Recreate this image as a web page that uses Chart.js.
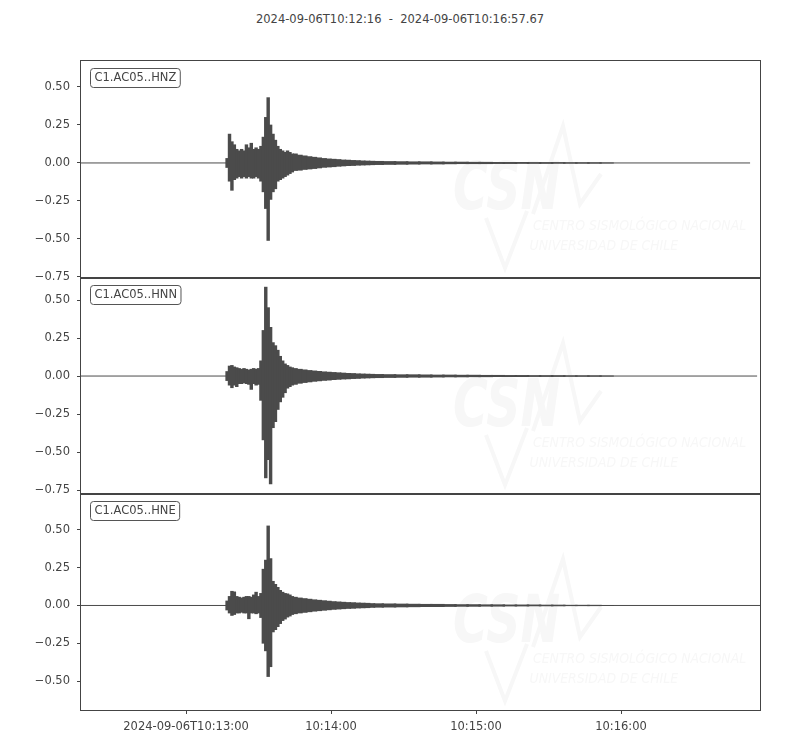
<!DOCTYPE html>
<html>
<head>
<meta charset="utf-8">
<script src="https://cdn.jsdelivr.net/npm/chart.js@4.4.1/dist/chart.umd.min.js"></script>
<style>
  body { margin: 0; background: #fff; }
  #wrap { position: relative; width: 800px; height: 750px; }
  #wrap canvas { position: absolute; left: 0; }
  #title {
    position: absolute; top: 12px; left: 0; width: 800px; text-align: center;
    font: 11.5px "DejaVu Sans", sans-serif; color: #444; white-space: pre;
  }
</style>
</head>
<body>
<div id="wrap">
  <div id="title">2024-09-06T10:12:16  -  2024-09-06T10:16:57.67</div>
  <canvas id="p0" width="800" height="237" style="top:51px"></canvas>
  <canvas id="p1" width="800" height="236" style="top:268px"></canvas>
  <canvas id="p2" width="800" height="266" style="top:484px"></canvas>
</div>
<script>
// seconds relative to 10:13:00
const xMin = -43.45;
const xMax = 237.5;
const tickTimes = [0, 60, 120, 180];
const tickLabels = ['2024-09-06T10:13:00', '10:14:00', '10:15:00', '10:16:00'];

const channels = ['C1.AC05..HNZ', 'C1.AC05..HNN', 'C1.AC05..HNE'];
const yMin = [-0.757, -0.776, -0.691];
const yMax = [0.671, 0.645, 0.737];
const yTicksA = [-0.75, -0.5, -0.25, 0, 0.25, 0.5];
const yTicksB = [-0.5, -0.25, 0, 0.25, 0.5];
const traceStart = [-43.45, -43.45, -43.45];
const traceEnd = [233.4, 236.3, 237.5];

// envelope bins (max / min amplitude per time bin)
const binTimes = [
  17, 18, 19, 20, 21, 22, 23, 24, 25, 26, 27, 28, 29, 30, 31, 32, 33, 34, 35, 36, 37, 38, 39, 40, 41, 42, 43, 44, 45,
  47, 49, 51, 53, 55, 57, 59, 61, 63, 65, 67, 69, 71, 73, 75, 77, 79,
  84, 89, 94, 99, 104, 109, 114, 119, 124, 129, 134, 139, 144, 149, 154, 159, 164, 169, 174
];

const hnzHigh = [
  0.03, 0.19, 0.14, 0.12, 0.09, 0.08, 0.09, 0.08, 0.12, 0.10, 0.13, 0.09, 0.10, 0.09, 0.11, 0.17, 0.30, 0.43, 0.25, 0.19, 0.15, 0.11, 0.09, 0.08, 0.07, 0.08, 0.07, 0.06, 0.06,
  0.052, 0.047, 0.042, 0.038, 0.034, 0.03, 0.027, 0.025, 0.023, 0.02, 0.019, 0.017, 0.016, 0.014, 0.013, 0.012, 0.011,
  0.01, 0.009, 0.008, 0.008, 0.007, 0.006, 0.006, 0.005, 0.005, 0.004, 0.004, 0.004, 0.003, 0.003, 0.003, 0.002, 0.002, 0.002, 0.001
];
const hnzLow = [
  -0.03, -0.12, -0.18, -0.11, -0.10, -0.09, -0.10, -0.09, -0.10, -0.09, -0.10, -0.10, -0.09, -0.10, -0.12, -0.19, -0.30, -0.51, -0.24, -0.19, -0.17, -0.12, -0.11, -0.10, -0.09, -0.08, -0.07, -0.06, -0.05,
  -0.048, -0.043, -0.04, -0.037, -0.033, -0.029, -0.027, -0.025, -0.022, -0.02, -0.018, -0.017, -0.015, -0.014, -0.013, -0.012, -0.011,
  -0.01, -0.009, -0.008, -0.007, -0.007, -0.006, -0.005, -0.005, -0.005, -0.004, -0.004, -0.003, -0.003, -0.003, -0.002, -0.002, -0.002, -0.002, -0.001
];

const hnnHigh = [
  0.03, 0.066, 0.07, 0.06, 0.055, 0.05, 0.045, 0.05, 0.045, 0.04, 0.045, 0.05, 0.045, 0.05, 0.10, 0.30, 0.585, 0.45, 0.32, 0.22, 0.20, 0.17, 0.13, 0.10, 0.08, 0.07, 0.06, 0.055, 0.05,
  0.045, 0.041, 0.037, 0.034, 0.031, 0.028, 0.026, 0.024, 0.022, 0.02, 0.018, 0.017, 0.015, 0.014, 0.013, 0.012, 0.011,
  0.01, 0.009, 0.009, 0.008, 0.007, 0.007, 0.006, 0.006, 0.005, 0.005, 0.004, 0.004, 0.003, 0.003, 0.003, 0.002, 0.002, 0.002, 0.001
];
const hnnLow = [
  -0.03, -0.06, -0.077, -0.06, -0.07, -0.05, -0.05, -0.045, -0.05, -0.055, -0.088, -0.05, -0.06, -0.055, -0.16, -0.42, -0.67, -0.55, -0.71, -0.34, -0.30, -0.22, -0.17, -0.14, -0.11, -0.08, -0.07, -0.06, -0.055,
  -0.048, -0.043, -0.039, -0.035, -0.032, -0.029, -0.027, -0.024, -0.022, -0.02, -0.019, -0.017, -0.016, -0.014, -0.013, -0.012, -0.011,
  -0.01, -0.009, -0.008, -0.008, -0.007, -0.006, -0.006, -0.005, -0.005, -0.004, -0.004, -0.004, -0.003, -0.003, -0.003, -0.002, -0.002, -0.002, -0.001
];

const hneHigh = [
  0.03, 0.06, 0.094, 0.09, 0.06, 0.055, 0.05, 0.055, 0.06, 0.06, 0.055, 0.07, 0.088, 0.06, 0.08, 0.24, 0.30, 0.526, 0.31, 0.16, 0.14, 0.12, 0.10, 0.088, 0.08, 0.077, 0.07, 0.06, 0.055,
  0.05, 0.046, 0.042, 0.038, 0.035, 0.032, 0.029, 0.026, 0.024, 0.022, 0.02, 0.019, 0.017, 0.016, 0.015, 0.013, 0.012,
  0.011, 0.01, 0.009, 0.008, 0.008, 0.007, 0.006, 0.006, 0.005, 0.005, 0.004, 0.004, 0.004, 0.003, 0.003, 0.002, 0.002, 0.002, 0.001
];
const hneLow = [
  -0.03, -0.05, -0.066, -0.06, -0.05, -0.05, -0.045, -0.05, -0.05, -0.088, -0.05, -0.05, -0.055, -0.05, -0.08, -0.25, -0.30, -0.47, -0.405, -0.175, -0.16, -0.14, -0.12, -0.10, -0.09, -0.077, -0.07, -0.06, -0.055,
  -0.05, -0.046, -0.042, -0.038, -0.035, -0.032, -0.029, -0.026, -0.024, -0.022, -0.02, -0.019, -0.017, -0.016, -0.015, -0.013, -0.012,
  -0.011, -0.01, -0.009, -0.008, -0.008, -0.007, -0.006, -0.006, -0.005, -0.005, -0.004, -0.004, -0.003, -0.003, -0.003, -0.002, -0.002, -0.002, -0.001
];

const traceColor = '#4b4b4b';
const axisColor = '#444';

Chart.defaults.font.family = '"DejaVu Sans", sans-serif';
Chart.defaults.font.size = 11.5;
Chart.defaults.color = axisColor;

const fmt = (v) => v.toFixed(2).replace('-', '\u2212');

// frame, channel label and faint CSN watermark
const panelDecor = {
  id: 'panelDecor',
  beforeDatasetsDraw(chart) {
    const { ctx, chartArea: a } = chart;
    ctx.save();
    ctx.fillStyle = '#f7f7f7';
    ctx.strokeStyle = '#f7f7f7';
    ctx.textBaseline = 'alphabetic';
    ctx.save();
    ctx.translate(a.left + 372, a.top + 148);
    ctx.scale(0.72, 1);
    ctx.font = 'italic bold 66px "DejaVu Sans", sans-serif';
    ctx.fillText('CSN', 0, 0);
    ctx.restore();
    ctx.save();
    ctx.translate(a.left + 452, a.top + 169);
    ctx.scale(0.86, 1);
    ctx.font = 'italic 14.5px "DejaVu Sans", sans-serif';
    ctx.fillText('CENTRO SISMOLÓGICO NACIONAL', 0, 0);
    ctx.fillText('UNIVERSIDAD DE CHILE', -4, 20);
    ctx.restore();
    ctx.lineWidth = 4;
    ctx.beginPath();
    ctx.moveTo(a.left + 405, a.top + 157);
    ctx.lineTo(a.left + 424, a.top + 207);
    ctx.lineTo(a.left + 446, a.top + 150);
    ctx.moveTo(a.left + 452, a.top + 153);
    ctx.lineTo(a.left + 482, a.top + 65);
    ctx.lineTo(a.left + 499, a.top + 143);
    ctx.lineTo(a.left + 520, a.top + 113);
    ctx.stroke();
    ctx.restore();
  },
  afterDatasetsDraw(chart, args, opts) {
    const { ctx, chartArea: a } = chart;
    ctx.save();
    ctx.strokeStyle = axisColor;
    ctx.lineWidth = 1;
    ctx.strokeRect(Math.round(a.left) - 0.5, Math.round(a.top) - 0.5,
      Math.round(a.right - a.left) + 1, Math.round(a.bottom - a.top) + 1);

    ctx.font = '11.5px "DejaVu Sans", sans-serif';
    const w = ctx.measureText(opts.label).width + 8;
    const x = a.left + 9.5, y = a.top + 7.5, h = 19;
    ctx.beginPath();
    ctx.roundRect(x, y, w, h, 3);
    ctx.fillStyle = '#fff';
    ctx.fill();
    ctx.strokeStyle = '#555';
    ctx.stroke();
    ctx.fillStyle = axisColor;
    ctx.textBaseline = 'middle';
    ctx.fillText(opts.label, x + 4, y + h / 2 + 0.5);
    ctx.restore();
  }
};

function makePanel(idx, high, low, showX) {
  const canvas = document.getElementById('p' + idx);
  const env = binTimes.map((t, i) => ({ x: t, y: [low[i], high[i]] }));
  const yTicks = idx === 2 ? yTicksB : yTicksA;

  return new Chart(canvas, {
    type: 'bar',
    data: {
      datasets: [
        {
          type: 'line',
          data: [{ x: traceStart[idx], y: 0 }, { x: traceEnd[idx], y: 0 }],
          borderColor: traceColor,
          borderWidth: 1,
          pointRadius: 0,
          order: 2,
        },
        {
          data: env,
          backgroundColor: traceColor,
          borderWidth: 0,
          barThickness: 'flex',
          barPercentage: 1.15,
          categoryPercentage: 1,
          order: 1,
        },
      ],
    },
    options: {
      responsive: false,
      animation: false,
      devicePixelRatio: 1,
      layout: { padding: { left: 0, right: 40, top: 10, bottom: 10 } },
      plugins: {
        legend: { display: false },
        tooltip: { enabled: false },
        panelDecor: { label: channels[idx] },
      },
      scales: {
        x: {
          type: 'linear',
          min: xMin,
          max: xMax,
          offset: false,
          display: showX,
          afterBuildTicks: (axis) => {
            axis.ticks = tickTimes.map((v) => ({ value: v }));
          },
          afterFit: (axis) => { axis.height = showX ? 30 : 0; },
          ticks: {
            autoSkip: false,
            maxRotation: 0,
            padding: 6,
            callback: (v, i) => tickLabels[i],
          },
          grid: { offset: false, drawOnChartArea: false, drawTicks: true, tickLength: 4, color: axisColor },
          border: { display: false },
        },
        y: {
          min: yMin[idx],
          max: yMax[idx],
          afterBuildTicks: (axis) => {
            axis.ticks = yTicks.map((v) => ({ value: v }));
          },
          afterFit: (axis) => {
            axis.width = 81;
            axis.paddingTop = 0;
            axis.paddingBottom = 0;
          },
          ticks: { padding: 7, callback: (v) => fmt(v) },
          grid: { drawOnChartArea: false, drawTicks: true, tickLength: 4, color: axisColor },
          border: { display: false },
        },
      },
    },
    plugins: [panelDecor],
  });
}

makePanel(0, hnzHigh, hnzLow, false);
makePanel(1, hnnHigh, hnnLow, false);
makePanel(2, hneHigh, hneLow, true);
</script>
</body>
</html>
